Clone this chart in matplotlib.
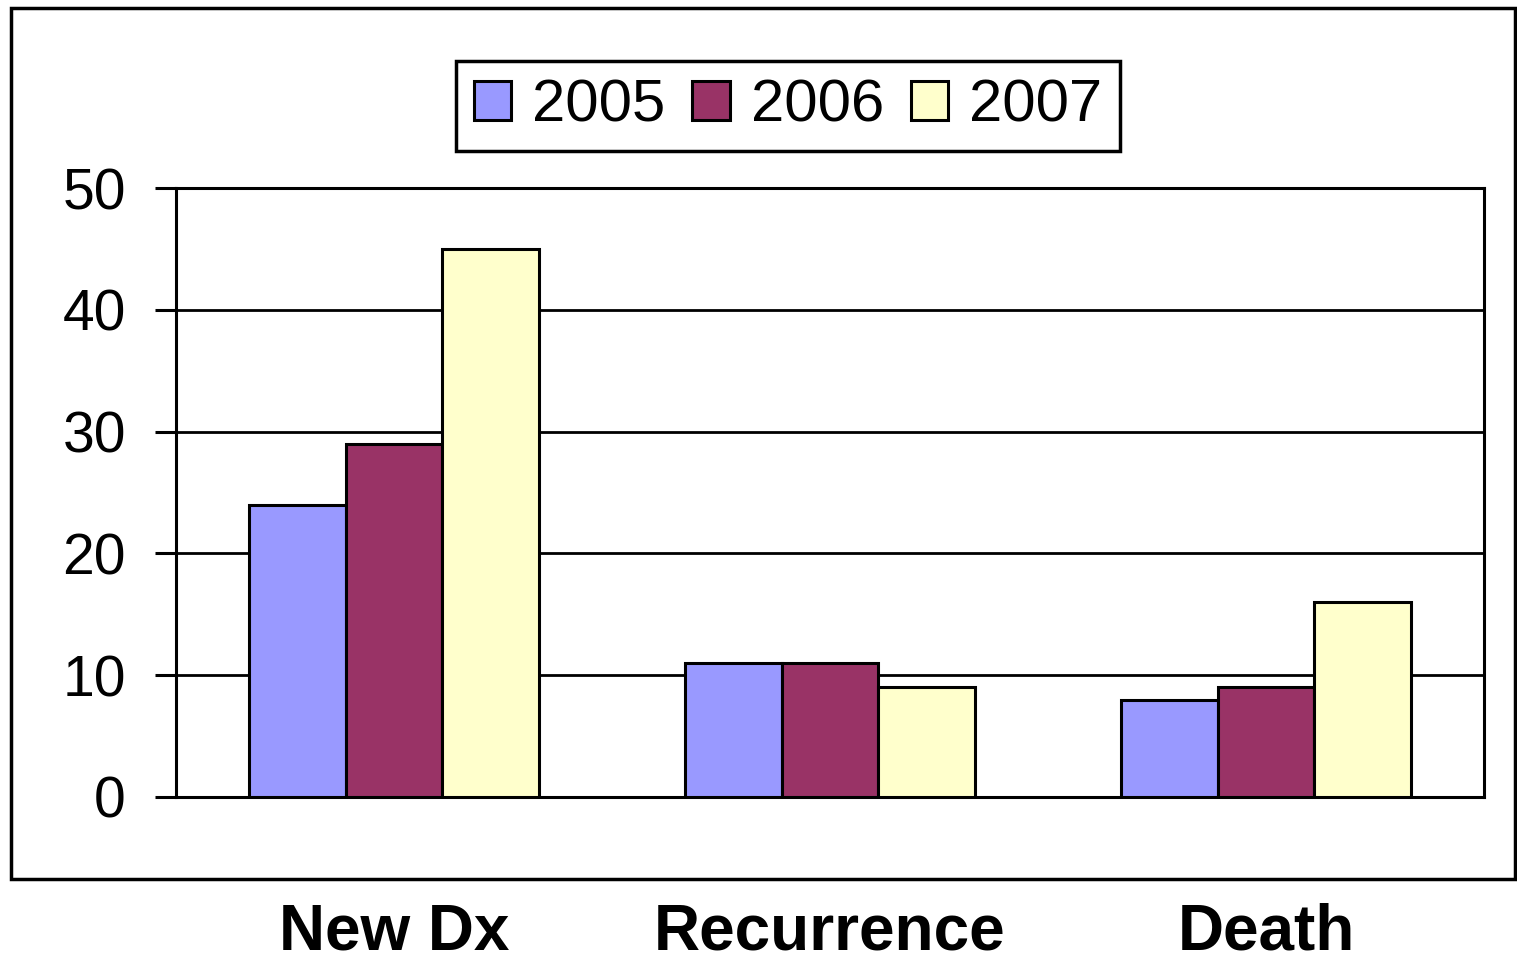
import numpy as np
import matplotlib
matplotlib.use("Agg")
import matplotlib.pyplot as plt
from matplotlib.patches import Rectangle

categories = ["New Dx", "Recurrence", "Death"]
years = ["2005", "2006", "2007"]
values_2005 = [24, 11, 8]
values_2006 = [29, 11, 9]
values_2007 = [45, 9, 16]
colors = ["#9999FF", "#993366", "#FFFFCC"]

plt.rcParams['font.family'] = ['Liberation Sans', 'DejaVu Sans']

W, H = 1517, 960
fig = plt.figure(figsize=(W / 100, H / 100), dpi=100)
ax = fig.add_axes([176 / W, 1 - 797 / H, (1484 - 176) / W, (797 - 188) / H])

x = np.arange(len(categories))
width = 0.222
series = [values_2005, values_2006, values_2007]
handles = []
for i, (vals, col, yr) in enumerate(zip(series, colors, years)):
    b = ax.bar(x + (i - 1) * width, vals, width, color=col, edgecolor="black",
               linewidth=2.2, label=yr, zorder=3)
    handles.append(b)

ax.set_xlim(-0.5, 2.5)
ax.set_ylim(0, 50)
ax.set_yticks(range(0, 51, 10))
ax.yaxis.grid(True, color="black", linewidth=2, zorder=0)
ax.set_axisbelow(True)
for s in ax.spines.values():
    s.set_linewidth(2.2)
ax.tick_params(axis="y", direction="out", length=15, width=2.2, labelsize=41, pad=21)
ax.set_xticks(x)
ax.set_xticklabels(categories, fontsize=46, fontweight="bold")
ax.tick_params(axis="x", length=0, pad=76)

# outer chart-area border
fig.patches.append(Rectangle((11 / W, 1 - 879 / H), (1515 - 11) / W, (879 - 8) / H,
                             transform=fig.transFigure, fill=False,
                             edgecolor="black", linewidth=2.5))

leg = fig.legend(handles=handles, labels=years, loc="center",
                 bbox_to_anchor=(788 / W, 1 - 106 / H), ncol=3, fontsize=43,
                 frameon=True, fancybox=False, edgecolor="black", framealpha=1,
                 handlelength=0.63, handleheight=0.63, handletextpad=0.35,
                 columnspacing=0.45, borderpad=0.3, borderaxespad=0)
leg.get_frame().set_linewidth(2.5)

fig.savefig("out.png", dpi=100)
